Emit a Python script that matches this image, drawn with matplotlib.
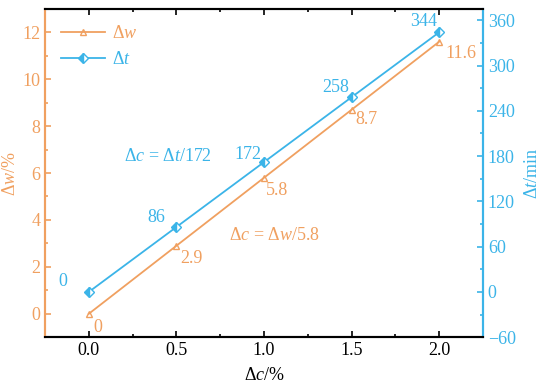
import matplotlib
matplotlib.use("Agg")
import matplotlib.pyplot as plt
from matplotlib.ticker import MultipleLocator
from matplotlib.lines import Line2D

plt.rcParams['font.family'] = ['Liberation Serif', 'DejaVu Serif']
plt.rcParams['mathtext.fontset'] = 'custom'
plt.rcParams['mathtext.rm'] = 'Liberation Serif'
plt.rcParams['mathtext.it'] = 'Liberation Serif:italic'
plt.rcParams['font.size'] = 13

dc = [0.0, 0.5, 1.0, 1.5, 2.0]
dw = [0.0, 2.9, 5.8, 8.7, 11.6]
dt = [0, 86, 172, 258, 344]
dw_labels = ['0', '2.9', '5.8', '8.7', '11.6']
dt_labels = ['0', '86', '172', '258', '344']

# label offsets (pixels, label centre relative to point)
dw_off = [(9, -14), (15, -13), (13, -13), (15, -10), (22, -12)]
dt_off = [(-26, 10), (-20, 10), (-16, 8), (-16, 10), (-15, 11)]

orange = '#F0A060'
blue = '#3BB4E8'

fig = plt.figure(figsize=(5.5, 3.88), dpi=100)
ax = fig.add_axes([0.082, 0.131, 0.796, 0.846])
ax2 = ax.twinx()

ax.plot(dc, dw, color=orange, lw=1.3, marker='^', ms=5, mfc='none', mec=orange, mew=1.0)
ax2.plot(dc, dt, color=blue, lw=1.3, marker='D', ms=5, fillstyle='left',
         mfc=blue, mfcalt='white', mec=blue, mew=1.0)

ax.set_xlim(-0.25, 2.25)
ax.set_ylim(-1, 13)
ax2.set_ylim(-60, 375)

ax.xaxis.set_major_locator(MultipleLocator(0.5))
ax.xaxis.set_minor_locator(MultipleLocator(0.25))
ax.yaxis.set_major_locator(MultipleLocator(2))
ax.yaxis.set_minor_locator(MultipleLocator(1))
ax2.set_yticks([-60, 0, 60, 120, 180, 240, 300, 360])
ax2.yaxis.set_minor_locator(MultipleLocator(30))
ax.set_xticks([0.0, 0.5, 1.0, 1.5, 2.0])
ax.set_xticklabels(['0.0', '0.5', '1.0', '1.5', '2.0'])

ax.tick_params(axis='x', which='both', direction='in', top=True, colors='black', labelsize=13)
ax.tick_params(axis='x', which='major', length=4, width=1.2)
ax.tick_params(axis='x', which='minor', length=2, width=1.2)
ax.tick_params(axis='y', which='both', direction='in', colors=orange, width=1.2, labelsize=13)
ax.tick_params(axis='y', which='major', length=4)
ax.tick_params(axis='y', which='minor', length=2)
ax2.tick_params(axis='y', which='both', direction='in', colors=blue, width=1.2, labelsize=13)
ax2.tick_params(axis='y', which='major', length=4)
ax2.tick_params(axis='y', which='minor', length=2)

for a in (ax, ax2):
    a.spines['top'].set_color('black')
    a.spines['bottom'].set_color('black')
    a.spines['left'].set_color(orange)
    a.spines['right'].set_color(blue)
    for s in a.spines.values():
        s.set_linewidth(1.5)

ax.set_xlabel(r'$\Delta c$/%', color='black', labelpad=6)
ax.set_ylabel(r'$\Delta w$/%', color=orange, labelpad=2)
ax2.set_ylabel(r'$\Delta t$/min', color=blue, labelpad=6)

for x, y, s, o in zip(dc, dw, dw_labels, dw_off):
    ax.annotate(s, (x, y), xytext=o, textcoords='offset pixels',
                ha='center', va='center', color=orange, fontsize=13)
for x, y, s, o in zip(dc, dt, dt_labels, dt_off):
    ax2.annotate(s, (x, y), xytext=o, textcoords='offset pixels',
                 ha='center', va='center', color=blue, fontsize=13)

ax.text(0.2, 6.7, r'$\Delta c$ = $\Delta t$/172', color=blue, fontsize=13, va='center', ha='left')
ax.text(1.32, 3.35, r'$\Delta c$ = $\Delta w$/5.8', color=orange, fontsize=13, va='center', ha='right')

handles = [
    Line2D([], [], color=orange, lw=1.3, marker='^', ms=5, mfc='none', mec=orange),
    Line2D([], [], color=blue, lw=1.3, marker='D', ms=5, fillstyle='left',
           mfc=blue, mfcalt='white', mec=blue),
]
leg = ax.legend(handles, [r'$\Delta w$', r'$\Delta t$'], loc='upper left', frameon=False,
                handlelength=2.4, handletextpad=0.4, fontsize=13, borderaxespad=0.5,
                labelspacing=0.5)
for t, c in zip(leg.get_texts(), [orange, blue]):
    t.set_color(c)

fig.savefig('out.png', dpi=100)
